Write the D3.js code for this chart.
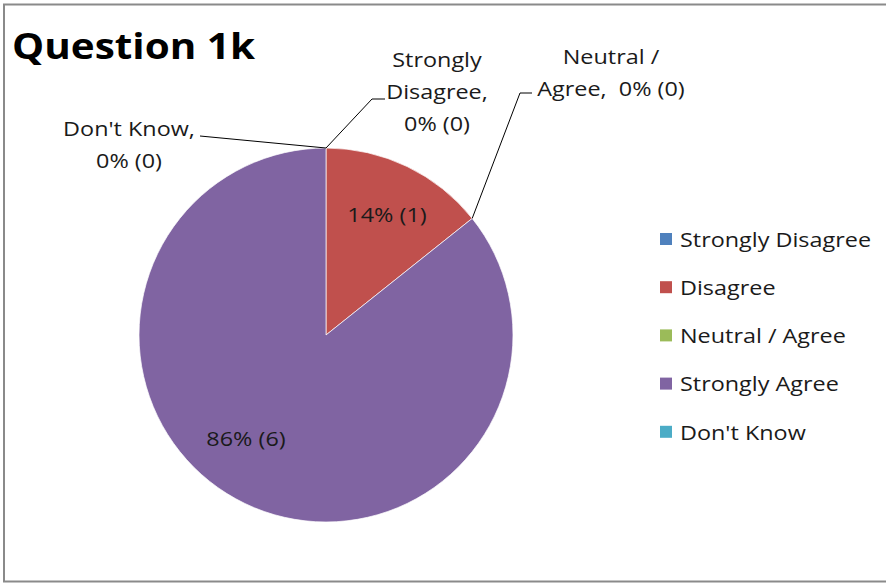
<!DOCTYPE html>
<html><head><meta charset="utf-8">
<script src="https://cdn.jsdelivr.net/npm/d3@7"></script>
<style>body{margin:0;background:#fff}svg{display:block}text{font-family:"Open Sans",sans-serif;fill:#1a1a1a}</style>
</head><body><svg id="c" width="886" height="583"></svg>
<script>
const categories = ["Strongly Disagree","Disagree","Neutral / Agree","Strongly Agree","Don't Know"];
const counts = [0,1,0,6,0];
const percents = ["0%","14%","0%","86%","0%"];
const colors = ["#4F81BD","#C0504D","#9BBB59","#8064A2","#4BACC6"];
const title = "Question 1k";

const svg = d3.select("#c");
svg.append("rect").attr("x",4).attr("y",4.5).attr("width",900).attr("height",577)
  .attr("fill","#fff").attr("stroke","#8a8a8a").attr("stroke-width",2);
svg.append("text").attr("x",12).attr("y",59).attr("font-size",36).attr("font-weight","bold")
  .attr("textLength",243).attr("lengthAdjust","spacingAndGlyphs")
  .style("fill","#000").text(title);

const SX=1.17, fs=20;
function label(x,y,t,anchor){
  return svg.append("text").attr("transform",`translate(${x},${y}) scale(${SX},1)`)
    .attr("text-anchor",anchor||"start").attr("dominant-baseline","central")
    .attr("font-size",fs).text(t);
}

const cx=326, cy=335, r=187;
const g = svg.append("g").attr("transform",`translate(${cx},${cy})`);
const color = d3.scaleOrdinal().domain(categories).range(colors);
const pie = d3.pie().sort(null).value(d=>d.v);
const data = categories.map((c,i)=>({c, v:counts[i], p:percents[i]}));
const arcs = pie(data);
const arc = d3.arc().innerRadius(0).outerRadius(r);
g.selectAll("path").data(arcs.filter(d=>d.data.v>0)).join("path")
  .attr("d",arc).attr("fill",d=>color(d.data.c)).attr("stroke","#fff").attr("stroke-width",0.7);

// inside labels
const inside = {"Disagree":[387,214],"Strongly Agree":[246,438]};
arcs.filter(d=>d.data.v>0).forEach(d=>{
  const [x,y]=inside[d.data.c];
  label(x,y,`${d.data.p} (${d.data.v})`,"middle");
});
// outside labels for zero slices
const outside = {
  "Strongly Disagree":{lines:["Strongly","Disagree,","0% (0)"], x:437, y0:59, elbow:[372,99], end:[385,99]},
  "Neutral / Agree":{lines:["Neutral /","Agree,\u00a0 0% (0)"], x:611, y0:56, elbow:[520,93], end:[532,93]},
  "Don't Know":{lines:["Don't Know,","0% (0)"], x:129, y0:128, elbow:null, end:[200,136]}
};
arcs.filter(d=>d.data.v===0).forEach(d=>{
  const o=outside[d.data.c];
  const a=d.startAngle;
  const px=cx+r*Math.sin(a), py=cy-r*Math.cos(a);
  const pts=[[px,py]]; if(o.elbow) pts.push(o.elbow); pts.push(o.end);
  svg.append("path").attr("d",d3.line()(pts)).attr("fill","none").attr("stroke","#000").attr("stroke-width",1);
  o.lines.forEach((l,i)=> label(o.x, o.y0+i*32, l, "middle"));
});
// legend
categories.forEach((c,i)=>{
  const y=239+i*48.2;
  svg.append("rect").attr("x",660).attr("y",y-6).attr("width",12).attr("height",12).attr("fill",color(c));
  label(680,y,c);
});
</script></body></html>
